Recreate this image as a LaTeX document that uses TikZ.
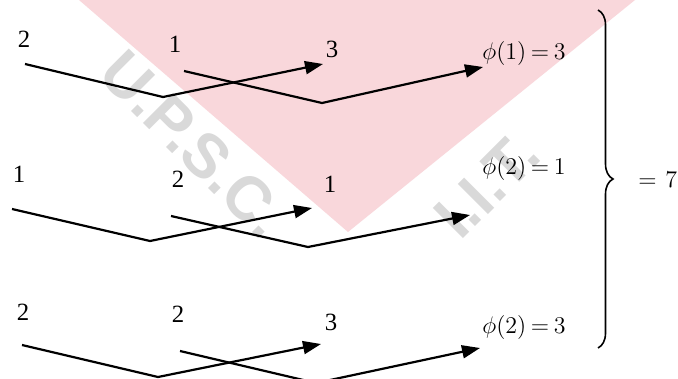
\documentclass[tikz,border=0pt]{standalone}
\usepackage{fontspec}
\setmainfont{Liberation Serif}
\setsansfont{Liberation Sans}
\usetikzlibrary{arrows.meta,decorations.pathreplacing}
\definecolor{ink}{HTML}{000000}
\definecolor{wmpink}{HTML}{F9D7DB}
\definecolor{wmgrey}{HTML}{D9D9D9}
\newcommand{\numfont}{\fontsize{12.4}{14}\selectfont\thickmuskip=3.5mu}
\newcommand{\wmfont}{\fontsize{31}{33}\selectfont\sffamily\bfseries}

\begin{document}
\begin{tikzpicture}[x=0.5pt,y=-0.5pt,
  lbl/.style={anchor=base,inner sep=0,font=\numfont,text=ink},
  maparrow/.style={ink,line width=1.1pt,-{Triangle[length=9pt,width=6.5pt]}},
  bigbrace/.style={ink,line width=0.8pt,decorate,decoration={brace,amplitude=7.5pt}}]
\useasboundingbox (0,0) rectangle (678,379);
\fill[white] (0,0) rectangle (678,379);
% watermark
\fill[wmpink] (79,0) -- (635,0) -- (348,232) -- cycle;
\node[font=\wmfont,text=wmgrey,rotate=-45] (wm1) at (194,144) {U.P.S.C.};
\node[font=\wmfont,text=wmgrey,rotate=45] (wm2) at (487,185) {I.I.T.};
% first row
\node[lbl] (r1a) at (24,48) {2};
\node[lbl] (r1b) at (175,53) {1};
\node[lbl] (r1c) at (332,58) {3};
\node[lbl,anchor=base west] (r1f) at (482,60) {$\phi\bigl(1\bigr)=3$};
\coordinate (r1p0) at (25,64);  \coordinate (r1p1) at (163,97);  \coordinate (r1p2) at (323,64);
\coordinate (r1q0) at (184,71); \coordinate (r1q1) at (322,103); \coordinate (r1q2) at (483,67);
\draw[maparrow] (r1p0) -- (r1p1) -- (r1p2);
\draw[maparrow] (r1q0) -- (r1q1) -- (r1q2);
% second row
\node[lbl] (r2a) at (19,183) {1};
\node[lbl] (r2b) at (178,187) {2};
\node[lbl] (r2c) at (330,192) {1};
\node[lbl,anchor=base west] (r2f) at (482,175) {$\phi\bigl(2\bigr)=1$};
\coordinate (r2p0) at (12,209);  \coordinate (r2p1) at (150,241); \coordinate (r2p2) at (312,208);
\coordinate (r2q0) at (171,216); \coordinate (r2q1) at (308,247); \coordinate (r2q2) at (470,215);
\draw[maparrow] (r2p0) -- (r2p1) -- (r2p2);
\draw[maparrow] (r2q0) -- (r2q1) -- (r2q2);
% third row
\node[lbl] (r3a) at (23,320) {2};
\node[lbl] (r3b) at (178,322) {2};
\node[lbl] (r3c) at (331,330) {3};
\node[lbl,anchor=base west] (r3f) at (482,333) {$\phi\bigl(2\bigr)=3$};
\coordinate (r3p0) at (22,345);  \coordinate (r3p1) at (158,377); \coordinate (r3p2) at (321,344);
\coordinate (r3q0) at (180,351); \coordinate (r3q1) at (316,383); \coordinate (r3q2) at (480,348);
\draw[maparrow] (r3p0) -- (r3p1) -- (r3p2);
\draw[maparrow] (r3q0) -- (r3q1) -- (r3q2);
% brace and sum
\coordinate (bt) at (598,10); \coordinate (bb) at (598,348);
\draw[bigbrace] (bt) -- (bb);
\node[lbl,anchor=base west] (sum) at (638,187) {$=\,7$};
\end{tikzpicture}
\end{document}
